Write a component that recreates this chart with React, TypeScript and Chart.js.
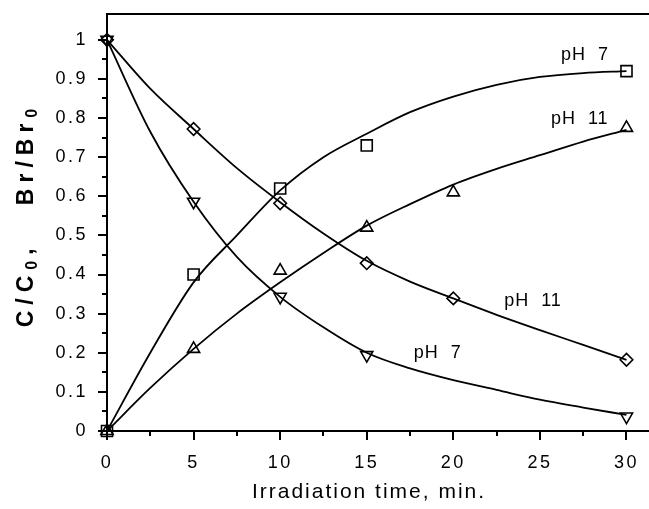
import React, { useEffect, useRef } from 'react';
import { Chart, registerables } from 'chart.js';

Chart.register(...registerables);

// ---- data ----
const curveTimes = [0, 2.5, 5, 7.5, 10, 12.5, 15, 17.5, 20, 22.5, 25, 27.5, 30];
const squareCurvePH7 = [0, 0.2, 0.38, 0.5, 0.615, 0.7, 0.76, 0.815, 0.855, 0.885, 0.905, 0.915, 0.92];
const triUpCurvePH11 = [0, 0.11, 0.21, 0.3, 0.38, 0.455, 0.525, 0.58, 0.63, 0.67, 0.705, 0.74, 0.77];
const diamondCurvePH11 = [1, 0.875, 0.772, 0.672, 0.585, 0.505, 0.435, 0.382, 0.339, 0.297, 0.258, 0.22, 0.182];
const triDownCurvePH7 = [1, 0.765, 0.586, 0.445, 0.343, 0.265, 0.2, 0.16, 0.13, 0.105, 0.08, 0.06, 0.041];

const squareTimes = [0, 5, 10, 15, 30];
const squareValues = [0, 0.4, 0.62, 0.73, 0.92];
const triUpTimes = [0, 5, 10, 15, 20, 30];
const triUpValues = [0, 0.21, 0.41, 0.52, 0.61, 0.775];
const diamondTimes = [0, 5, 10, 15, 20, 30];
const diamondValues = [1, 0.772, 0.582, 0.429, 0.339, 0.182];
const triDownTimes = [0, 5, 10, 15, 30];
const triDownValues = [1, 0.586, 0.343, 0.194, 0.037];

const xTickValues = [0, 5, 10, 15, 20, 25, 30];
const xTickLabels = ['0', '5', '10', '15', '20', '25', '30'];
const xMinorTicks = [2.5, 7.5, 12.5, 17.5, 22.5, 27.5];
const yTickValues = [0, 0.1, 0.2, 0.3, 0.4, 0.5, 0.6, 0.7, 0.8, 0.9, 1];
const yTickLabels = ['0', '0.1', '0.2', '0.3', '0.4', '0.5', '0.6', '0.7', '0.8', '0.9', '1'];
const yMinorTicks = [0.05, 0.15, 0.25, 0.35, 0.45, 0.55, 0.65, 0.75, 0.85, 0.95];

const curveLabelTexts = ['pH  7', 'pH  11', 'pH  11', 'pH  7'];
const curveLabelX = [27.6, 27.3, 24.6, 19.1];
const curveLabelY = [0.962, 0.798, 0.332, 0.2];

const xTitle = 'Irradiation time, min.';

const FONT = '"Liberation Sans", Arial, Helvetica, sans-serif';

const pts = (xs: number[], ys: number[]) => xs.map((x, i) => ({ x, y: ys[i] }));

const findLabel = (vals: number[], labels: string[], v: number) => {
  const i = vals.findIndex((t) => Math.abs(t - v) < 1e-6);
  return i >= 0 ? labels[i] : '';
};

const decorPlugin = {
  id: 'decor',
  beforeDraw(chart: any) {
    chart.ctx.letterSpacing = '2.5px';
  },
  afterDraw(chart: any) {
    const ctx = chart.ctx as CanvasRenderingContext2D;
    const { left, right, top, bottom } = chart.chartArea;
    const xs = chart.scales.x;
    const ys = chart.scales.y;
    ctx.save();
    (ctx as any).letterSpacing = '0px';
    ctx.strokeStyle = '#000';
    ctx.fillStyle = '#000';
    ctx.lineWidth = 2;
    // top frame line
    ctx.beginPath();
    ctx.moveTo(left - 1, top);
    ctx.lineTo(right, top);
    ctx.stroke();
    // y ticks
    ctx.beginPath();
    yTickValues.forEach((v) => {
      const p = Math.round(ys.getPixelForValue(v));
      ctx.moveTo(left - 9, p);
      ctx.lineTo(left, p);
    });
    yMinorTicks.forEach((v) => {
      const p = Math.round(ys.getPixelForValue(v));
      ctx.moveTo(left - 5, p);
      ctx.lineTo(left, p);
    });
    // x ticks
    xTickValues.forEach((v) => {
      const p = Math.round(xs.getPixelForValue(v));
      ctx.moveTo(p, bottom);
      ctx.lineTo(p, bottom + 9);
    });
    xMinorTicks.forEach((v) => {
      const p = Math.round(xs.getPixelForValue(v));
      ctx.moveTo(p, bottom);
      ctx.lineTo(p, bottom + 5);
    });
    ctx.stroke();

    // curve labels
    (ctx as any).letterSpacing = '1px';
    ctx.font = `18px ${FONT}`;
    ctx.textAlign = 'center';
    ctx.textBaseline = 'middle';
    curveLabelTexts.forEach((t, i) => {
      ctx.fillText(t, xs.getPixelForValue(curveLabelX[i]), ys.getPixelForValue(curveLabelY[i]));
    });

    // x title
    (ctx as any).letterSpacing = '2px';
    ctx.font = `21px ${FONT}`;
    ctx.textAlign = 'center';
    ctx.textBaseline = 'middle';
    ctx.fillText(xTitle, (left + right) / 2 - 9, 492);

    // y title, with subscripts
    ctx.translate(27, 215);
    ctx.rotate(-Math.PI / 2);
    (ctx as any).letterSpacing = '6px';
    const big = `bold 23px ${FONT}`;
    const small = `bold 16px ${FONT}`;
    const parts = [
      { t: 'C/C', f: big, dy: 0 },
      { t: '0', f: small, dy: 6 },
      { t: ',   Br/Br', f: big, dy: 0 },
      { t: '0', f: small, dy: 6 },
    ];
    let total = 0;
    parts.forEach((p) => {
      ctx.font = p.f;
      total += ctx.measureText(p.t).width;
    });
    let x = -total / 2;
    ctx.textAlign = 'left';
    ctx.textBaseline = 'middle';
    parts.forEach((p) => {
      ctx.font = p.f;
      ctx.fillText(p.t, x, p.dy);
      x += ctx.measureText(p.t).width;
    });
    ctx.restore();
    (ctx as any).letterSpacing = '0px';
  },
};

export default function App() {
  const canvasRef = useRef<HTMLCanvasElement | null>(null);

  useEffect(() => {
    if (!canvasRef.current) return;
    const lineDs = (data: number[]) => ({
      data: pts(curveTimes, data),
      showLine: true,
      borderColor: '#000',
      borderWidth: 1.8,
      pointRadius: 0,
      cubicInterpolationMode: 'monotone' as const,
      fill: false,
    });
    const markerDs = (xsArr: number[], ysArr: number[], style: string, radius: number, rotation = 0) => ({
      data: pts(xsArr, ysArr),
      showLine: false,
      pointStyle: style,
      pointRadius: radius,
      pointRotation: rotation,
      pointBorderColor: '#000',
      pointBackgroundColor: 'rgba(0,0,0,0)',
      pointBorderWidth: 1.6,
      clip: false as any,
    });

    const chart = new Chart(canvasRef.current, {
      type: 'scatter',
      data: {
        datasets: [
          lineDs(squareCurvePH7),
          lineDs(triUpCurvePH11),
          lineDs(diamondCurvePH11),
          lineDs(triDownCurvePH7),
          markerDs(squareTimes, squareValues, 'rect', 7.8),
          markerDs(triUpTimes, triUpValues, 'triangle', 7),
          markerDs(diamondTimes, diamondValues, 'rectRot', 6.3),
          markerDs(triDownTimes, triDownValues, 'triangle', 7, 180),
        ] as any,
      },
      options: {
        animation: false,
        responsive: false,
        maintainAspectRatio: false,
        devicePixelRatio: 1,
        events: [],
        layout: { autoPadding: false, padding: { top: 14, right: 0, left: 0, bottom: 0 } },
        plugins: { legend: { display: false }, tooltip: { enabled: false }, title: { display: false } },
        scales: {
          x: {
            type: 'linear',
            min: 0,
            max: 31.3,
            afterFit: (s: any) => {
              s.height = 78;
              s.paddingLeft = 0;
              s.paddingRight = 0;
              s.paddingTop = 0;
              s.paddingBottom = 0;
            },
            border: { display: true, color: '#000', width: 2 },
            grid: { display: true, drawOnChartArea: false, drawTicks: true, tickLength: 9, color: 'rgba(0,0,0,0)', tickColor: 'rgba(0,0,0,0)' },
            ticks: {
              stepSize: 2.5,
              includeBounds: false,
              autoSkip: false,
              maxRotation: 0,
              padding: 12,
              color: '#000',
              font: { family: FONT, size: 18 },
              callback: (v: any) => findLabel(xTickValues, xTickLabels, Number(v)),
            },
          },
          y: {
            type: 'linear',
            min: 0,
            max: 1.066,
            afterFit: (s: any) => {
              s.width = 107;
              s.paddingLeft = 0;
              s.paddingRight = 0;
              s.paddingTop = 0;
              s.paddingBottom = 0;
            },
            border: { display: true, color: '#000', width: 2 },
            grid: { display: true, drawOnChartArea: false, drawTicks: true, tickLength: 9, color: 'rgba(0,0,0,0)', tickColor: 'rgba(0,0,0,0)' },
            ticks: {
              stepSize: 0.05,
              includeBounds: false,
              autoSkip: false,
              padding: 10,
              color: '#000',
              font: { family: FONT, size: 18 },
              callback: (v: any) => findLabel(yTickValues, yTickLabels, Number(v)),
            },
          },
        },
      } as any,
      plugins: [decorPlugin as any],
    });
    return () => chart.destroy();
  }, []);

  return (
    <div style={{ position: 'fixed', left: 0, top: 0, width: 649, height: 509, background: '#fff' }}>
      <canvas ref={canvasRef} width={649} height={509} style={{ display: 'block', width: 649, height: 509 }} />
    </div>
  );
}
